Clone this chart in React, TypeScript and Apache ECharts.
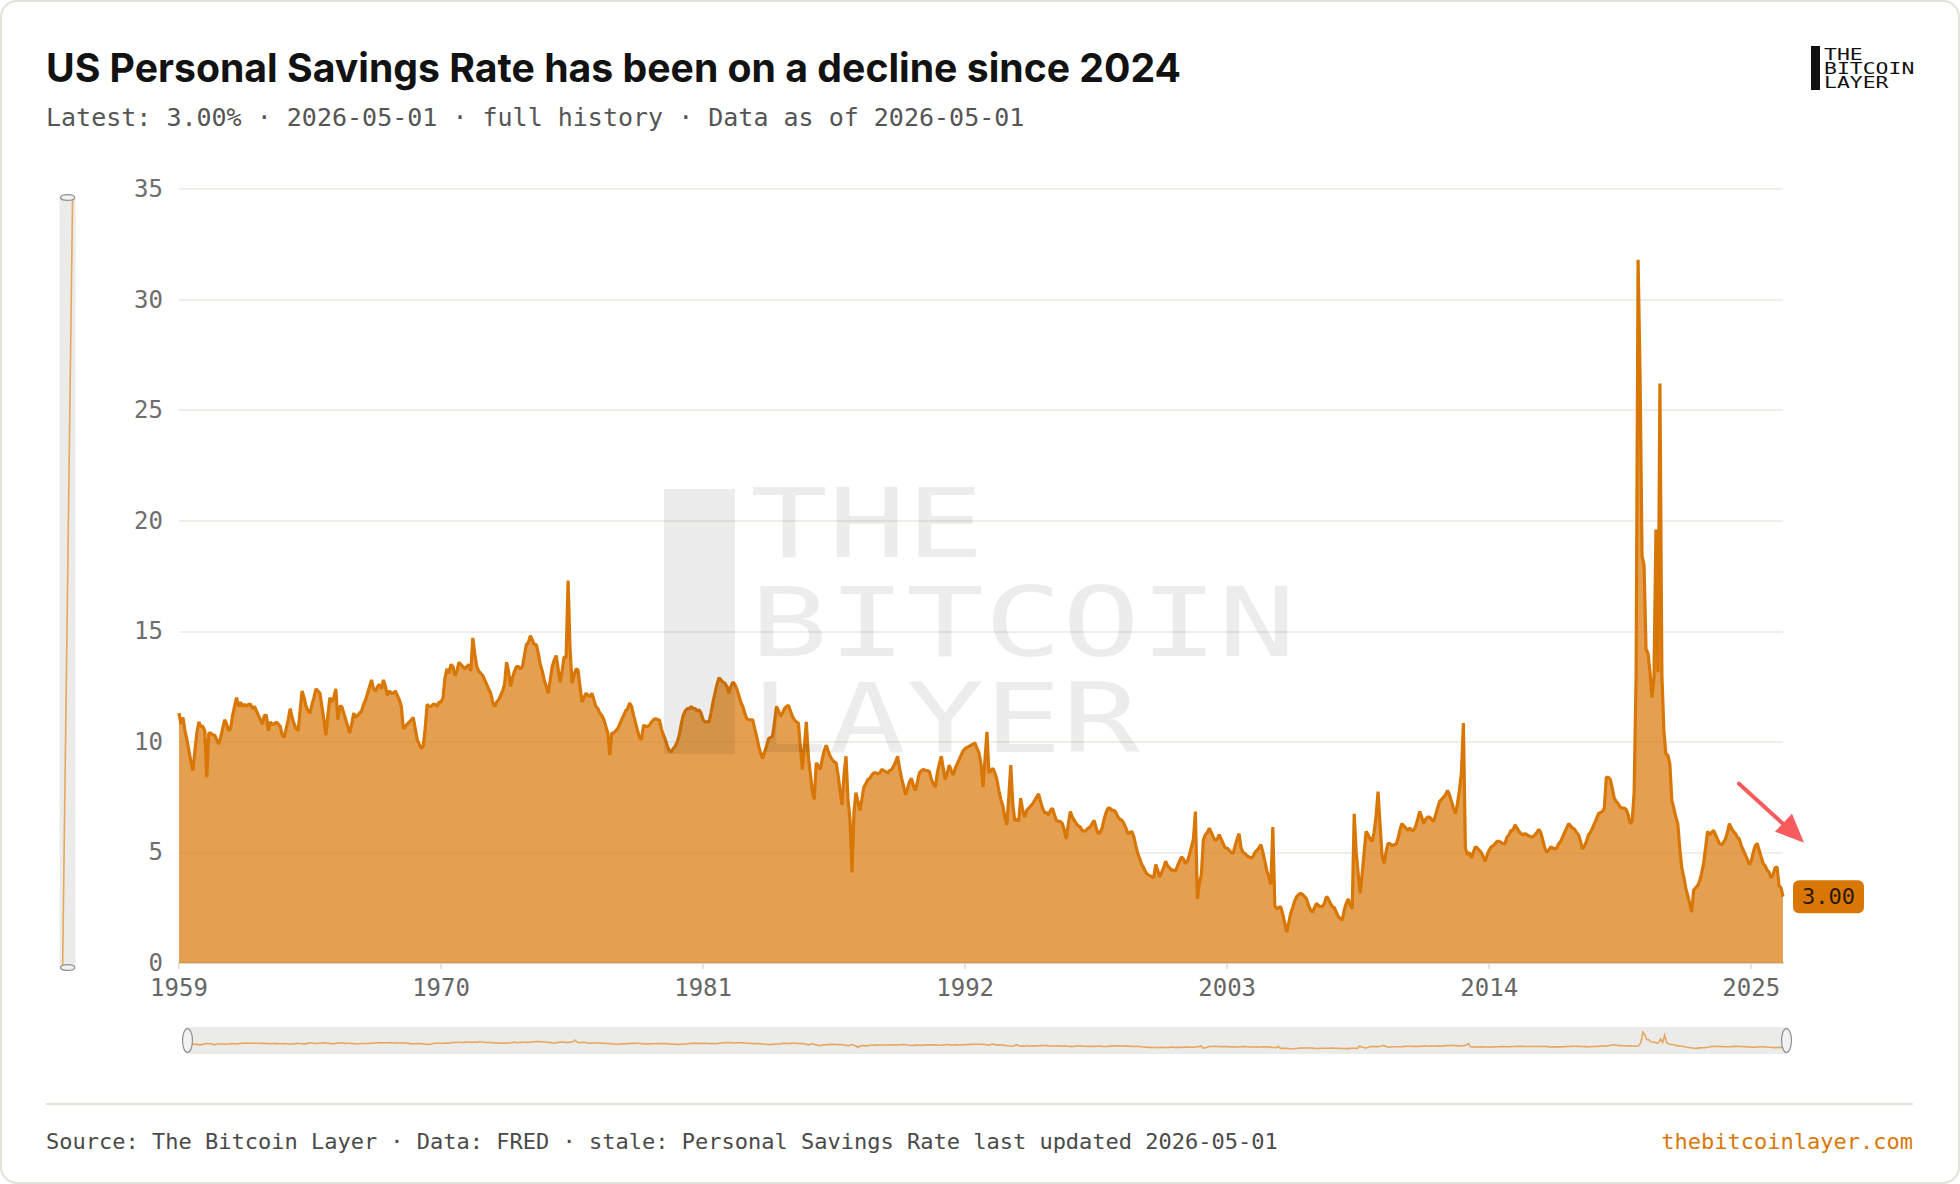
import React, { useEffect, useRef } from "react";
import * as echarts from "echarts";

// ---------- DATA (US Personal Savings Rate, %, monthly from 1959-01) ----------
const START_YEAR = 1959;

const savings1950s = [
  11.3, 10.8, 11.1, 10.5, 10.1, 9.6, 9.1, 8.7, 9.6, 10.4, 10.9, 10.7, // 1959
];

const savings1960s = [
  10.7, 10.5, 8.4, 10.4, 10.4, 10.3, 10.3, 10.1, 9.9, 10.2, 10.6, 11.0, // 1960
  10.8, 10.5, 10.6, 11.2, 11.6, 12.0, 11.6, 11.8, 11.6, 11.7, 11.6, 11.7, // 1961
  11.7, 11.5, 11.6, 11.4, 11.2, 11.0, 10.8, 11.2, 11.2, 10.5, 10.9, 10.8, // 1962
  10.8, 10.9, 10.8, 10.7, 10.3, 10.2, 10.6, 11.0, 11.5, 11.1, 10.8, 10.6, // 1963
  10.5, 11.4, 12.3, 12.0, 11.6, 11.4, 11.3, 11.7, 12.0, 12.4, 12.3, 12.2, // 1964
  11.6, 11.0, 10.3, 11.2, 12.0, 11.8, 12.0, 12.4, 11.0, 11.6, 11.6, 11.3, // 1965
  11.0, 10.7, 10.4, 10.8, 11.3, 11.1, 11.2, 11.3, 11.4, 11.7, 11.9, 12.2, // 1966
  12.5, 12.8, 12.4, 12.3, 12.5, 12.6, 12.4, 12.8, 12.5, 12.1, 12.3, 12.2, // 1967
  12.2, 12.3, 12.1, 11.9, 11.6, 10.6, 10.7, 10.8, 10.9, 11.0, 11.1, 10.6, // 1968
  10.1, 9.9, 9.7, 9.8, 10.6, 11.7, 11.6, 11.6, 11.7, 11.7, 11.6, 11.8, // 1969
];

const savings1970s = [
  11.8, 12.0, 12.9, 13.3, 13.1, 13.5, 13.4, 13.0, 13.2, 13.6, 13.5, 13.4, // 1970
  13.3, 13.4, 13.5, 13.2, 14.7, 14.0, 13.4, 13.2, 13.1, 13.0, 12.8, 12.6, // 1971
  12.4, 12.2, 11.8, 11.6, 11.8, 11.9, 12.1, 12.3, 12.6, 13.6, 13.2, 12.5, // 1972
  12.9, 13.2, 13.4, 13.4, 13.3, 13.4, 13.9, 14.4, 14.5, 14.8, 14.6, 14.4, // 1973
  14.4, 14.0, 13.5, 13.2, 12.8, 12.5, 12.2, 12.8, 13.4, 13.7, 13.9, 13.3, // 1974
  12.7, 13.2, 13.85, 13.8, 17.3, 14.2, 12.65, 13.0, 13.3, 13.25, 12.5, 11.8, // 1975
  12.0, 12.2, 12.1, 12.05, 12.2, 11.9, 11.6, 11.5, 11.3, 11.2, 11.0, 10.7, // 1976
  10.4, 9.4, 10.4, 10.4, 10.5, 10.6, 10.8, 11.0, 11.2, 11.4, 11.5, 11.75, // 1977
  11.6, 11.2, 10.85, 10.5, 10.2, 10.1, 10.75, 10.7, 10.7, 10.75, 10.9, 11.0, // 1978
  11.05, 11.0, 11.0, 10.6, 10.3, 10.1, 9.8, 9.6, 9.55, 9.7, 9.8, 10.0, // 1979
];

const savings1980s = [
  10.3, 10.8, 11.2, 11.4, 11.5, 11.5, 11.6, 11.5, 11.5, 11.4, 11.45, 11.3, // 1980
  11.0, 10.9, 10.9, 10.9, 11.3, 11.8, 12.2, 12.6, 12.9, 12.8, 12.7, 12.65, // 1981
  12.5, 12.2, 12.5, 12.7, 12.6, 12.4, 12.1, 11.8, 11.6, 11.3, 11.05, 11.0, // 1982
  11.0, 11.0, 10.6, 10.25, 9.8, 9.5, 9.25, 9.55, 9.8, 10.15, 10.2, 10.25, // 1983
  10.9, 11.6, 11.4, 11.15, 11.3, 11.5, 11.6, 11.65, 11.4, 11.15, 11.0, 10.9, // 1984
  10.85, 9.8, 8.75, 9.8, 10.9, 9.35, 8.6, 7.8, 7.4, 9.05, 8.9, 8.75, // 1985
  9.2, 9.6, 9.85, 9.6, 9.35, 9.2, 9.1, 9.05, 8.5, 7.8, 7.15, 8.5, // 1986
  9.35, 7.4, 6.5, 4.1, 6.8, 7.7, 7.3, 6.9, 7.4, 7.95, 8.1, 8.3, // 1987
  8.35, 8.5, 8.6, 8.6, 8.55, 8.6, 8.75, 8.7, 8.65, 8.6, 8.7, 8.75, // 1988
  8.9, 9.1, 9.35, 8.8, 8.35, 8.0, 7.6, 7.9, 8.2, 8.35, 8.0, 7.8, // 1989
];

const savings1990s = [
  8.2, 8.6, 8.7, 8.75, 8.7, 8.7, 8.65, 8.3, 8.1, 7.95, 8.6, 9.0, // 1990
  9.35, 8.8, 8.3, 8.6, 8.95, 8.7, 8.5, 8.8, 9.0, 9.2, 9.4, 9.6, // 1991
  9.7, 9.75, 9.8, 9.85, 9.9, 9.95, 9.7, 9.5, 9.0, 7.95, 9.2, 10.45, // 1992
  8.6, 8.7, 8.8, 8.6, 8.3, 7.8, 7.4, 7.1, 6.6, 6.25, 7.5, 8.95, // 1993
  7.2, 6.45, 6.5, 6.4, 7.45, 6.9, 6.6, 6.9, 7.0, 7.1, 7.2, 7.35, // 1994
  7.5, 7.65, 7.3, 7.0, 6.8, 6.8, 6.7, 6.9, 7.0, 6.7, 6.45, 6.4, // 1995
  6.4, 6.3, 6.0, 5.6, 6.3, 6.85, 6.6, 6.45, 6.3, 6.2, 6.15, 6.0, // 1996
  5.95, 6.0, 6.1, 6.15, 6.3, 6.45, 6.1, 5.85, 5.9, 6.1, 6.5, 6.8, // 1997
  7.0, 7.0, 6.9, 6.9, 6.8, 6.6, 6.5, 6.45, 6.3, 6.1, 5.85, 5.9, // 1998
  5.95, 5.7, 5.3, 4.95, 4.7, 4.45, 4.3, 4.1, 4.0, 3.95, 3.9, 3.85, // 1999
];

const savings2000s = [
  4.45, 4.2, 3.9, 4.1, 4.3, 4.6, 4.4, 4.3, 4.2, 4.2, 4.15, 4.4, // 2000
  4.6, 4.8, 4.7, 4.5, 4.6, 4.9, 5.25, 5.6, 6.85, 2.9, 3.6, 4.0, // 2001
  5.55, 5.8, 5.9, 6.1, 5.9, 5.7, 5.55, 5.6, 5.8, 5.6, 5.4, 5.2, // 2002
  5.2, 5.1, 5.0, 4.95, 5.3, 5.6, 5.85, 5.2, 5.0, 4.95, 4.85, 4.8, // 2003
  4.75, 4.8, 5.0, 5.1, 5.2, 5.35, 5.0, 4.6, 4.15, 3.9, 3.55, 6.15, // 2004
  2.6, 2.45, 2.5, 2.55, 2.2, 1.8, 1.4, 1.8, 2.25, 2.5, 2.8, 3.0, // 2005
  3.1, 3.15, 3.1, 3.0, 2.9, 2.6, 2.4, 2.3, 2.5, 2.7, 2.6, 2.55, // 2006
  2.55, 2.7, 3.0, 2.9, 2.7, 2.55, 2.5, 2.3, 2.1, 2.0, 1.95, 2.4, // 2007
  2.7, 2.9, 2.6, 2.45, 6.75, 5.0, 4.05, 3.15, 4.0, 5.0, 5.95, 5.8, // 2008
  5.6, 5.5, 5.9, 6.6, 7.75, 6.3, 4.9, 4.5, 5.0, 5.4, 5.4, 5.3, // 2009
];

const savings2010s = [
  5.35, 5.35, 5.6, 6.0, 6.3, 6.2, 6.1, 6.0, 6.1, 6.0, 6.0, 6.2, // 2010
  6.5, 6.85, 6.6, 6.3, 6.5, 6.6, 6.6, 6.5, 6.4, 6.7, 7.0, 7.3, // 2011
  7.4, 7.5, 7.6, 7.8, 7.6, 7.3, 7.0, 6.75, 7.2, 7.8, 8.6, 10.85, // 2012
  5.2, 4.9, 5.0, 4.75, 5.0, 5.25, 5.2, 5.1, 5.0, 4.8, 4.6, 4.9, // 2013
  5.1, 5.25, 5.3, 5.4, 5.5, 5.5, 5.45, 5.4, 5.4, 5.7, 5.8, 6.0, // 2014
  6.0, 6.25, 6.1, 5.95, 5.85, 5.8, 5.85, 5.8, 5.75, 5.7, 5.7, 5.8, // 2015
  5.9, 6.05, 5.9, 5.55, 5.2, 5.0, 5.1, 5.25, 5.2, 5.15, 5.2, 5.4, // 2016
  5.5, 5.7, 5.9, 6.1, 6.3, 6.2, 6.1, 6.05, 5.9, 5.8, 5.5, 5.15, // 2017
  5.3, 5.5, 5.8, 5.9, 6.1, 6.3, 6.5, 6.75, 6.8, 6.85, 7.0, 8.4, // 2018
  8.4, 8.3, 7.9, 7.45, 7.3, 7.2, 7.05, 7.0, 7.0, 6.95, 6.7, 6.3, // 2019
];

const savings2020s = [
  6.4, 7.7, 13.0, 31.8, 26.6, 18.4, 18.0, 14.2, 14.0, 13.15, 12.0, 12.9, // 2020
  19.6, 13.15, 26.2, 13.0, 10.5, 9.45, 9.4, 9.0, 7.35, 7.0, 6.6, 6.3, // 2021
  5.2, 4.3, 3.9, 3.4, 3.05, 2.7, 2.3, 3.3, 3.4, 3.5, 3.7, 4.05, // 2022
  4.5, 5.2, 5.95, 5.8, 5.9, 6.0, 5.8, 5.6, 5.4, 5.35, 5.45, 5.6, // 2023
  5.9, 6.3, 6.1, 5.95, 5.85, 5.7, 5.6, 5.3, 5.1, 4.9, 4.7, 4.45, // 2024
  4.6, 5.0, 5.3, 5.4, 5.1, 4.8, 4.5, 4.4, 4.2, 4.1, 3.85, 4.0, // 2025
  4.3, 4.35, 3.5, 3.4, 3.0, // 2026 (Jan-May)
];

const Y_TICKS = [0, 5, 10, 15, 20, 25, 30, 35];

const TITLE = "US Personal Savings Rate has been on a decline since 2024";
const SUBTITLE = "Latest: 3.00% · 2026-05-01 · full history · Data as of 2026-05-01";
const SOURCE = "Source: The Bitcoin Layer · Data: FRED · stale: Personal Savings Rate last updated 2026-05-01";
const SITE = "thebitcoinlayer.com";
const LOGO_LINES = ["THE", "BITCOIN", "LAYER"];

// ---------- derived ----------
const values: number[] = [
  ...savings1950s,
  ...savings1960s,
  ...savings1970s,
  ...savings1980s,
  ...savings1990s,
  ...savings2000s,
  ...savings2010s,
  ...savings2020s,
];
const categories: string[] = values.map((_, i) => {
  const y = START_YEAR + Math.floor(i / 12);
  const m = (i % 12) + 1;
  return `${y}-${m < 10 ? "0" + m : m}-01`;
});

const W = 1960;
const H = 1184;
const MONO = '"DejaVu Sans Mono", "Liberation Mono", monospace';
const SANS = 'Inter, "Noto Sans", sans-serif';
const ORANGE = "#d97706";
const PILL = "path://M5,0 A5,12 0 1,1 5,24 A5,12 0 1,1 5,0 Z";

export default function App() {
  const ref = useRef<HTMLDivElement>(null);

  useEffect(() => {
    if (!ref.current) return;
    const chart = echarts.init(ref.current, undefined, { renderer: "svg", width: W, height: H });
    const lastIdx = values.length - 1;
    const lastVal = values[lastIdx];

    const shadow = {
      lineStyle: { color: "#e6a75e", width: 1.6, opacity: 1 },
      areaStyle: { color: "#ebebe9", opacity: 0 },
    };
    const sliderCommon = {
      type: "slider",
      start: 0,
      end: 100,
      showDetail: false,
      brushSelect: false,
      moveHandleSize: 0,
      realtime: false,
      backgroundColor: "#ebebe9",
      borderColor: "transparent",
      fillerColor: "rgba(0,0,0,0)",
      dataBackground: shadow,
      selectedDataBackground: shadow,
      handleIcon: PILL,
      handleSize: "88%",
      handleStyle: { color: "#f2f2f2", borderColor: "#8f8f8f", borderWidth: 1.2 },
    };

    chart.setOption({
      animation: false,
      backgroundColor: "#ffffff",
      grid: { left: 179, right: 177, top: 189, bottom: 221, containLabel: false },
      xAxis: {
        type: "category",
        data: categories,
        boundaryGap: false,
        axisLine: { lineStyle: { color: "#dcd9d2", width: 2 } },
        axisTick: { show: true, interval: 131, length: 6, lineStyle: { color: "#dcd9d2", width: 1.5 } },
        axisLabel: {
          interval: 131,
          formatter: (v: string) => v.slice(0, 4),
          color: "#666666",
          fontFamily: MONO,
          fontSize: 24,
          margin: 13,
        },
        splitLine: { show: false },
      },
      yAxis: {
        type: "value",
        min: Y_TICKS[0],
        max: Y_TICKS[Y_TICKS.length - 1],
        interval: Y_TICKS[1] - Y_TICKS[0],
        axisLine: { show: false },
        axisTick: { show: false },
        axisLabel: { color: "#6e6e6e", fontFamily: MONO, fontSize: 24, margin: 16 },
        splitLine: { lineStyle: { color: "#ebe8e2", width: 1.5 } },
      },
      dataZoom: [
        { ...sliderCommon, xAxisIndex: 0, left: 184, right: 175, top: 1027, height: 27 },
        {
          ...sliderCommon,
          yAxisIndex: 0,
          orient: "vertical",
          filterMode: "none",
          left: 59,
          top: 194,
          bottom: 218,
          width: 16,
        },
      ],
      series: [
        {
          type: "line",
          data: values,
          symbol: "none",
          showSymbol: false,
          silent: true,
          lineStyle: { color: ORANGE, width: 3.2 },
          itemStyle: { color: ORANGE },
          areaStyle: { color: ORANGE, opacity: 0.7 },
          endLabel: {
            show: true,
            formatter: () => lastVal.toFixed(2),
            color: "#2a1904",
            backgroundColor: ORANGE,
            borderRadius: 6,
            padding: [6, 9, 5, 9],
            fontFamily: MONO,
            fontSize: 22,
            distance: 10,
          },
        },
      ],
    });

    const tip = chart.convertToPixel({ xAxisIndex: 0, yAxisIndex: 0 }, [lastIdx, lastVal]) as number[];
    const tipX = tip[0] + 21;
    const tipY = tip[1] - 54;

    const logoLineY = [54, 68, 82.5];
    const wmLineY = [524, 623, 719];

    chart.setOption({
      graphic: [
        {
          type: "rect",
          z: 0,
          silent: true,
          shape: { x: 1, y: 1, width: W - 2, height: H - 2, r: 16 },
          style: { fill: "none", stroke: "#e4e1da", lineWidth: 2 },
        },
        {
          type: "text",
          z: 50,
          silent: true,
          x: 46,
          y: 67,
          style: { text: TITLE, font: `700 39.2px ${SANS}`, fill: "#121212", textVerticalAlign: "middle" },
        },
        {
          type: "text",
          z: 50,
          silent: true,
          x: 46,
          y: 117,
          style: { text: SUBTITLE, font: `400 25px ${MONO}`, fill: "#555555", textVerticalAlign: "middle" },
        },
        // logo (top right)
        {
          type: "rect",
          z: 50,
          silent: true,
          shape: { x: 1811, y: 46, width: 9, height: 44 },
          style: { fill: "#111111" },
        },
        ...LOGO_LINES.map((t, k) => ({
          type: "text",
          z: 50,
          silent: true,
          x: 1824,
          y: logoLineY[k],
          scaleX: 1.34,
          style: { text: t, font: `400 16px ${MONO}`, fill: "#111111", textVerticalAlign: "middle" },
        })),
        // watermark
        {
          type: "rect",
          z: 100,
          silent: true,
          shape: { x: 664, y: 489, width: 71, height: 265 },
          style: { fill: "rgba(0,0,0,0.075)" },
        },
        ...LOGO_LINES.map((t, k) => ({
          type: "text",
          z: 100,
          silent: true,
          x: 750,
          y: wmLineY[k],
          scaleX: 1.35,
          style: { text: t, font: `400 96px ${MONO}`, fill: "rgba(0,0,0,0.075)", textVerticalAlign: "middle" },
        })),
        // red arrow pointing to latest value
        {
          type: "line",
          z: 60,
          silent: true,
          shape: { x1: tipX - 65, y1: tipY - 59, x2: tipX - 20, y2: tipY - 18 },
          style: { stroke: "#f75b5e", lineWidth: 4, lineCap: "round" },
        },
        {
          type: "polygon",
          z: 60,
          silent: true,
          shape: { points: [[tipX, tipY], [tipX - 29, tipY - 11], [tipX - 12, tipY - 29]] },
          style: { fill: "#f75b5e" },
        },
        // footer
        {
          type: "line",
          z: 10,
          silent: true,
          shape: { x1: 46, y1: 1104, x2: 1913, y2: 1104 },
          style: { stroke: "#e7e3da", lineWidth: 2 },
        },
        {
          type: "text",
          z: 50,
          silent: true,
          x: 46,
          y: 1141,
          style: { text: SOURCE, font: `400 22px ${MONO}`, fill: "#4a4a4a", textVerticalAlign: "middle" },
        },
        {
          type: "text",
          z: 50,
          silent: true,
          x: 1913,
          y: 1141,
          style: {
            text: SITE,
            font: `400 22px ${MONO}`,
            fill: ORANGE,
            textAlign: "right",
            textVerticalAlign: "middle",
          },
        },
      ],
    });

    return () => chart.dispose();
  }, []);

  return (
    <div
      ref={ref}
      style={{ position: "fixed", left: 0, top: 0, width: W, height: H, background: "#ffffff" }}
    />
  );
}
